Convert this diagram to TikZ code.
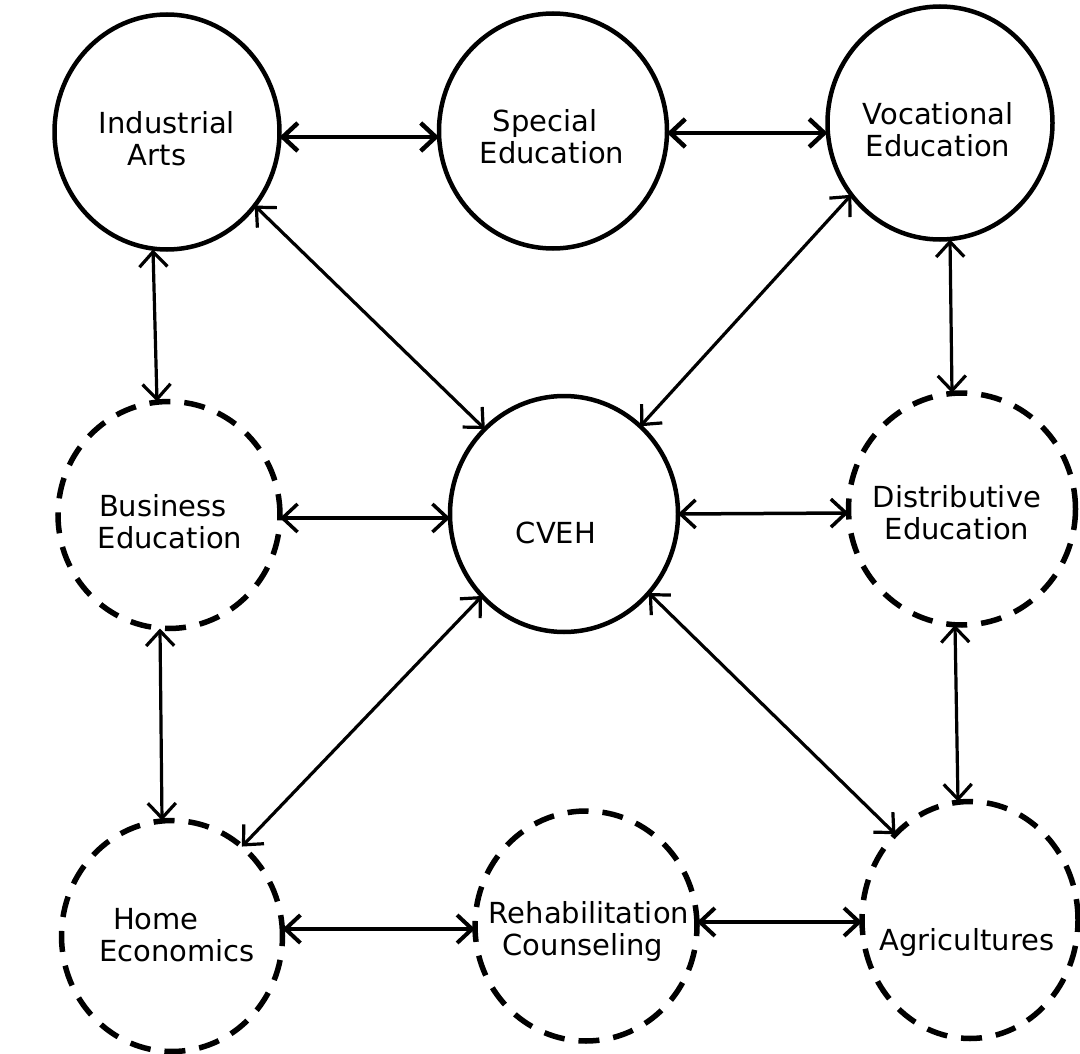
\documentclass[tikz,border=0pt]{standalone}
\usepackage{fontspec}
\setmainfont{DejaVu Sans}
\usetikzlibrary{arrows.meta,shapes.geometric}
\begin{document}
\begin{tikzpicture}[x=1pt,y=-1pt,
  solidc/.style={ellipse, draw, line width=4.5pt, inner sep=0pt, outer sep=0pt},
  dashc/.style={ellipse, draw, line width=5.5pt, dash pattern=on 21pt off 14pt, inner sep=0pt, outer sep=0pt},
  lbl/.style={align=center, font=\fontsize{29pt}{32pt}\selectfont, inner sep=0pt},
  link/.style={line width=3.2pt, {Straight Barb[length=15pt,width=28pt]}-{Straight Barb[length=15pt,width=28pt]}}
]
\useasboundingbox (0,0) rectangle (1080,1054);
\fill[white] (0,0) rectangle (1080,1054);

% circles
\node[solidc, minimum width=225pt, minimum height=235pt] (ind) at (167,132) {};
\node[solidc, minimum width=228pt, minimum height=235pt] (spe) at (553,131) {};
\node[solidc, minimum width=225pt, minimum height=233pt] (voc) at (940,123) {};
\node[dashc, minimum width=222pt, minimum height=227pt] (bus) at (169,515) {};
\node[solidc, minimum width=228pt, minimum height=236pt] (cveh) at (564,514) {};
\node[dashc, minimum width=227pt, minimum height=232pt] (dis) at (962,509) {};
\node[dashc, minimum width=221pt, minimum height=231pt] (home) at (172,936) {};
\node[dashc, minimum width=222pt, minimum height=230pt] (reh) at (586,926) {};
\node[dashc, minimum width=216pt, minimum height=237pt] (agr) at (970,920) {};

% labels
\node[lbl] (indT) at (167,139) {Industrial\\Arts\hspace*{20pt}};
\node[lbl] (speT) at (552,137) {Special\hspace*{14pt}\\Education};
\node[lbl] (vocT) at (938,130) {Vocational\\Education};
\node[lbl] (busT) at (170,522) {Business\hspace*{14pt}\\Education};
\node[lbl] (cvehT) at (556,533) {CVEH};
\node[lbl] (disT) at (957,513) {Distributive\\Education};
\node[lbl] (homeT) at (177,935) {Home\hspace*{42pt}\\Economics};
\node[lbl] (rehT) at (589,931) {Rehabilitation\\Counseling\hspace*{12pt}};
\node[lbl] (agrT) at (967,942) {Agricultures};

% connectors
\draw[link, line width=4.5pt] ([yshift=-5pt]ind.east) -- ([yshift=-6pt]spe.west);
\draw[link, line width=4.5pt] ([yshift=-2pt]spe.east) -- ([yshift=-10pt]voc.west);
\draw[link] ([xshift=-14pt]ind.south) -- ([xshift=-12pt]bus.north);
\draw[link] (ind.320) -- (cveh.133);
\draw[link] (voc.219) -- (cveh.49);
\draw[link] ([xshift=10pt]voc.south) -- ([xshift=-10pt]dis.north);
\draw[link, line width=3.5pt] ([yshift=-3pt]bus.east) -- ([yshift=-4pt]cveh.west);
\draw[link, line width=3.5pt] (cveh.east) -- ([yshift=-4pt]dis.west);
\draw[link] ([xshift=-9pt]bus.south) -- ([xshift=-10pt]home.north);
\draw[link] (home.52) -- (cveh.225);
\draw[link] (agr.131) -- (cveh.317);
\draw[link] ([xshift=-7pt]dis.south) -- ([xshift=-12pt]agr.north);
\draw[link, line width=4pt] ([yshift=7pt]home.east) -- ([yshift=-3pt]reh.west);
\draw[link, line width=4pt] ([yshift=4pt]reh.east) -- ([yshift=-2pt]agr.west);
\end{tikzpicture}
\end{document}
